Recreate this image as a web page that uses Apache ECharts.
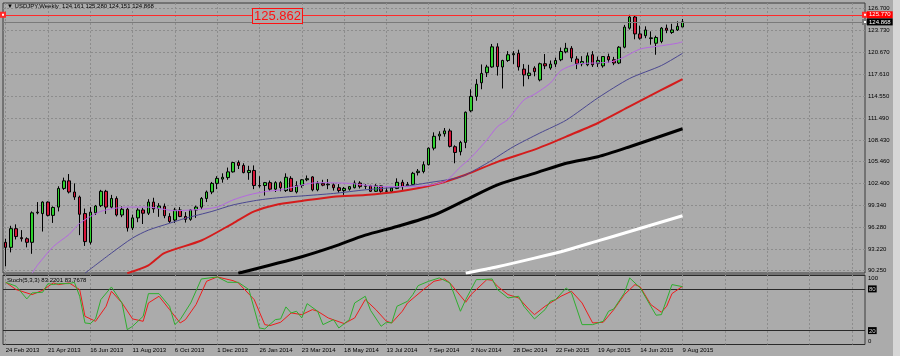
<!DOCTYPE html>
<html><head><meta charset="utf-8">
<script src="https://cdn.jsdelivr.net/npm/echarts@6/dist/echarts.min.js"></script>
<style>html,body{margin:0;padding:0;background:#ababab;overflow:hidden}#c{width:900px;height:356px}</style>
</head><body><div id="c"></div>
<script>
// ---------- data ----------
const symbolName = 'USDJPY';
const timeframe = 'Weekly';
const tickLabels = ['24 Feb 2013','21 Apr 2013','16 Jun 2013','11 Aug 2013','6 Oct 2013','1 Dec 2013','26 Jan 2014','23 Mar 2014','18 May 2014','13 Jul 2014','7 Sep 2014','2 Nov 2014','28 Dec 2014','22 Feb 2015','19 Apr 2015','14 Jun 2015','9 Aug 2015'];
const tickIndex = [0,8,16,24,32,40,48,56,64,72,80,88,96,104,112,120,128];
const gridIndex = [0,8,16,24,32,40,48,56,64,72,80,88,96,104,112,120,128,136,144,152,160];
const priceTicks = [90.25,93.22,96.28,99.34,102.40,105.46,108.43,111.49,114.55,117.61,120.67,123.73,126.70];
const stochLevels = [0,20,80,100];
const slotCount = 163;

const opens = [94.2,93.5,96.1,94.85,94.7,94.2,98.4,98.2,99.8,97.95,99.1,101.7,102.75,101.2,100.5,98.2,94.2,98.3,99.3,101.3,99.1,100.3,98.0,98.8,96.2,97.6,98.7,98.25,99.8,98.9,99.2,97.8,97.3,98.7,97.8,97.4,98.7,99.1,100.3,101.2,102.4,103.0,103.2,104.0,105.3,104.9,103.9,104.2,102.1,102.1,102.5,101.6,102.5,101.4,103.1,101.2,102.1,102.9,103.3,101.5,102.4,102.2,102.2,101.8,101.4,101.6,101.8,102.45,102.0,102.05,101.3,102.05,101.3,101.3,101.7,102.55,102.05,102.25,103.9,104.05,105.0,107.3,109.0,109.3,109.7,107.5,106.8,108.1,112.5,114.5,116.4,117.8,118.6,121.4,118.6,119.5,120.3,120.5,118.3,117.4,118.45,116.8,119.05,118.45,119.0,119.6,120.7,121.2,119.7,119.05,118.9,120.3,119.1,118.75,120.05,119.6,119.15,121.35,124.0,125.55,123.2,122.95,122.55,121.9,122.15,124.0,123.4,123.75,124.161];
const highs = [94.7,96.5,96.7,95.9,94.9,98.5,99.8,99.9,99.9,99.2,102.0,103.2,103.7,102.4,100.7,98.9,99.1,99.4,101.5,101.5,100.8,100.6,99.2,99.0,98.05,98.95,99.0,100.2,100.4,99.65,99.6,98.25,99.0,99.1,98.4,98.8,99.3,100.5,101.4,102.6,103.4,103.8,104.6,105.4,105.6,105.2,104.85,104.9,103.4,102.6,102.8,102.7,102.7,103.8,103.4,102.7,103.0,103.5,103.4,102.7,102.9,103.0,102.4,102.3,101.9,102.0,102.8,102.7,102.3,102.2,102.3,102.1,101.8,101.9,103.1,102.9,102.6,104.0,104.4,105.45,107.4,109.5,109.65,110.1,110.0,107.7,108.3,112.4,115.5,116.9,118.95,118.9,121.8,121.9,119.6,120.8,120.8,121.0,119.0,118.9,118.7,119.2,120.4,119.5,119.9,121.3,121.95,121.5,120.1,120.1,120.6,120.8,120.05,120.1,120.45,120.0,121.5,124.45,125.86,125.72,124.35,124.25,123.55,122.95,124.15,124.5,124.6,124.95,125.28];
const lows = [90.85,92.8,94.6,94.3,93.5,92.6,98.1,95.7,97.8,96.9,98.5,101.5,101.0,100.1,95.2,93.7,93.9,98.0,99.1,98.15,98.9,97.8,97.7,95.7,95.9,97.0,96.75,98.0,98.3,97.75,97.55,96.9,96.9,97.7,96.95,97.2,97.6,98.8,99.8,100.9,101.6,102.5,102.9,103.9,104.4,103.8,102.9,101.6,101.8,100.7,101.4,101.2,101.3,101.2,101.2,101.0,101.8,102.7,101.3,101.3,102.0,101.6,101.4,101.1,100.8,101.4,101.7,101.7,101.6,101.2,101.2,101.1,101.1,101.1,101.6,101.5,101.9,102.2,103.5,103.8,104.9,107.0,108.4,108.9,107.4,105.2,106.3,107.3,112.3,113.9,115.5,117.2,118.5,117.4,115.6,119.3,119.0,118.1,115.9,116.9,117.3,116.6,118.3,118.2,118.6,119.4,120.5,119.3,118.3,118.7,118.7,118.6,118.6,118.5,119.2,118.85,119.0,121.2,123.8,122.45,122.4,122.6,121.7,120.3,121.9,123.3,123.2,123.6,124.151];
const closes = [93.5,96.1,95.0,94.7,94.2,98.3,98.3,99.8,97.95,99.05,101.7,102.75,101.2,100.5,98.1,94.3,98.4,99.25,101.3,99.1,100.3,98.0,98.8,96.2,97.6,98.7,98.25,99.8,98.85,99.25,97.9,97.1,98.7,97.8,97.4,98.7,99.1,100.3,101.2,102.4,103.1,103.25,104.0,105.3,104.9,103.9,104.2,102.1,102.05,102.5,101.6,102.5,101.8,103.25,101.3,102.1,102.9,103.05,101.5,102.4,102.15,102.3,101.8,101.4,101.7,101.95,102.45,101.95,102.05,101.3,102.05,101.3,101.35,101.75,102.55,101.95,102.25,103.8,104.1,105.0,107.3,108.95,109.25,109.7,107.55,106.7,108.1,112.3,114.5,116.2,117.7,118.6,121.4,118.65,119.5,120.3,120.45,118.6,117.5,117.75,117.95,119.05,118.75,119.0,119.5,120.75,121.2,119.85,119.05,119.35,120.15,118.9,119.5,120.05,119.6,119.15,121.35,124.15,125.55,123.2,122.6,123.75,122.65,122.7,124.0,123.7,123.75,124.25,124.868];

const maViolet = [[5,89.9],[6,91.0],[9,93.6],[12,95.3],[14,96.85],[18,98.5],[23,99.1],[27,99.1],[32,98.6],[37,98.8],[40,99.1],[43,100.1],[46,100.8],[49,101.25],[52,101.5],[59,102.5],[65,102.4],[71,101.95],[77,101.95],[83,102.65],[86,104.7],[88,106.0],[91,108.45],[93,110.3],[95,111.3],[98,114.0],[100,114.8],[103,116.35],[105,118.1],[108,119.0],[113,119.2],[115,119.4],[117,120.0],[120,121.1],[124,121.55],[127,121.9],[128,122.1]];
const maBlue = [[15,89.9],[20,92.7],[24,94.8],[27,95.9],[31,96.85],[34,97.55],[39,98.5],[43,99.4],[48,100.1],[53,100.5],[56,100.65],[62,101.0],[68,101.5],[75,101.95],[80,102.5],[86,103.3],[91,105.2],[96,107.5],[101,109.4],[106,111.2],[112,114.3],[118,117.0],[124,118.8],[128,120.5]];
const maRed = [[23,89.9],[27,91.0],[30,92.7],[37,94.45],[43,96.85],[47,98.5],[51,99.4],[56,99.95],[62,100.55],[68,100.8],[74,101.25],[81,102.2],[87,103.6],[93,105.4],[100,107.1],[106,108.9],[112,110.8],[118,113.1],[124,115.4],[128,116.9]];
const maBlack = [[44,89.9],[56,92.2],[62,93.6],[68,95.2],[74,96.4],[81,98.0],[87,100.1],[93,102.2],[100,103.8],[106,105.2],[112,106.1],[118,107.5],[128,110.0]];
const maWhite = [[87,89.9],[93,90.8],[100,92.0],[106,93.1],[112,94.4],[118,95.7],[128,97.9]];

const stochMain = [[0,89.5],[2,83.8],[4,65.6],[5,74.2],[7,75.2],[8,87.6],[9,86.2],[10,87.6],[12,87.6],[13,89.5],[14,69.4],[15,31.0],[16,30.1],[17,36.8],[18,64.6],[20,82.8],[22,59.8],[23,21.4],[24,26.2],[26,40.6],[27,73.2],[29,73.2],[31,55.0],[32,28.6],[33,35.8],[35,59.8],[37,94.3],[40,97.2],[42,89.5],[44,89.5],[46,79.0],[48,23.8],[49,22.4],[51,35.8],[52,36.8],[53,54.1],[54,45.4],[55,47.8],[56,38.2],[57,58.8],[59,47.8],[60,28.6],[62,35.8],[63,23.8],[65,35.8],[66,59.8],[68,69.4],[69,49.2],[71,26.2],[72,32.0],[73,31.0],[74,55.0],[76,62.2],[77,71.8],[78,84.7],[80,91.0],[82,95.8],[84,88.6],[86,47.8],[87,64.6],[89,93.4],[90,93.4],[92,94.3],[93,79.0],[95,67.0],[97,69.4],[98,55.0],[100,36.8],[102,50.2],[103,62.2],[104,64.6],[106,81.4],[107,74.2],[109,28.6],[111,28.6],[113,33.4],[114,47.8],[115,51.2],[117,74.2],[118,95.8],[120,81.4],[122,55.0],[123,42.1],[124,43.0],[126,86.2],[128,83.2201]];
const stochSignal = [[0,89.5],[2,79.0],[5,71.8],[7,78.0],[9,88.6],[10,86.2],[12,88.6],[14,79.0],[15,40.6],[17,33.4],[19,55.0],[20,76.6],[22,59.8],[24,36.8],[26,33.4],[27,59.8],[29,69.4],[31,50.2],[33,31.0],[34,35.8],[36,57.4],[38,91.0],[40,97.2],[43,91.9],[44,88.6],[47,64.6],[49,28.6],[50,27.2],[52,32.0],[54,45.4],[56,43.0],[58,50.2],[59,47.8],[61,38.2],[64,30.1],[66,38.2],[68,64.6],[70,50.2],[72,33.4],[73,31.0],[75,47.8],[76,59.8],[79,79.0],[81,91.0],[83,94.3],[84,88.6],[87,60.8],[88,71.8],[91,93.4],[92,92.4],[93,83.8],[95,71.8],[97,67.0],[99,50.2],[100,43.0],[102,55.0],[105,69.4],[107,76.6],[109,59.8],[111,31.0],[113,32.0],[115,50.2],[117,71.8],[119,86.2],[120,82.8],[122,57.4],[124,46.4],[125,55.0],[126,73.2],[128,83.7678]];

const hLineValue = 125.862;
const hLineTag = '125.770';
const bidValue = 124.868;
const stochTitle = 'Stoch(5,3,3) 83.2201 83.7678';

// ---------- chart ----------
const FONT = '"Liberation Sans", "DejaVu Sans", sans-serif';
const slots = Array.from({length: slotCount}, (_, i) => String(i));
const candles = opens.map((o, i) => [o, closes[i], lows[i], highs[i]]);
const last = opens.length - 1;
const header = '\u25BC ' + symbolName + ',' + timeframe + '  ' +
  [opens[last], highs[last], lows[last], closes[last]].map(v => v.toFixed(3)).join(' ');

const gridDash = {color: '#8c8c8c', width: 1, type: [2, 2]};
const chart = echarts.init(document.getElementById('c'), null, {renderer: 'canvas'});

function maSeries(name, data, color, width, z) {
  return {name, type: 'line', xAxisIndex: 1, yAxisIndex: 0, data, symbol: 'none',
    smooth: 0.25,
    lineStyle: {color, width}, z, silent: true, clip: true};
}

chart.setOption({
  animation: false,
  backgroundColor: '#ababab',
  title: [
    {text: header, left: 7, top: 3, padding: 0,
     textStyle: {fontSize: 6, fontWeight: 'normal', color: '#000', fontFamily: FONT}},
    {text: stochTitle, left: 7, top: 277, padding: 0,
     textStyle: {fontSize: 6, fontWeight: 'normal', color: '#000', fontFamily: FONT}}
  ],
  grid: [
    {left: 3, right: 35, top: 3, height: 270, show: true, borderColor: '#3a3a3a', borderWidth: 1, backgroundColor: 'transparent'},
    {left: 3, right: 35, top: 275, height: 69.5, show: true, borderColor: '#3a3a3a', borderWidth: 1, backgroundColor: 'transparent'}
  ],
  xAxis: [
    {type: 'category', gridIndex: 0, data: slots, boundaryGap: true, show: false},
    {type: 'value', gridIndex: 0, min: -0.5, max: slotCount - 0.5,
     axisLine: {show: false}, axisLabel: {show: false},
     axisTick: {show: false, customValues: gridIndex},
     splitLine: {show: true, lineStyle: gridDash}},
    {type: 'category', gridIndex: 1, data: slots, boundaryGap: true, show: false},
    {type: 'value', gridIndex: 1, min: -0.5, max: slotCount - 0.5, position: 'bottom',
     axisLine: {show: false},
     axisTick: {show: false, customValues: gridIndex},
     axisLabel: {show: true, customValues: tickIndex, align: 'left', margin: 3,
       fontSize: 6, color: '#000', fontFamily: FONT,
       formatter: v => tickLabels[tickIndex.indexOf(Math.round(v))] || ''},
     splitLine: {show: true, lineStyle: gridDash}}
  ],
  yAxis: [
    {type: 'value', gridIndex: 0, min: 89.93, max: 127.5, position: 'right',
     axisLine: {show: false},
     axisTick: {show: false, customValues: priceTicks},
     axisLabel: {customValues: priceTicks, margin: 3, fontSize: 6, color: '#000', fontFamily: FONT,
       formatter: v => v.toFixed(3)},
     splitLine: {show: true, lineStyle: gridDash}},
    {type: 'value', gridIndex: 1, min: 0, max: 100, position: 'right',
     axisLine: {show: false},
     axisTick: {show: false, customValues: stochLevels},
     axisLabel: {customValues: stochLevels, margin: 3, fontSize: 6, color: '#000', fontFamily: FONT,
       formatter: v => v === 100 ? '{t|100}' : v === 0 ? '{z|0}' : '{b|' + v + '}',
       rich: {
         t: {fontSize: 6, padding: [7, 0, 0, 0], fontFamily: FONT, color: '#000'},
         z: {fontSize: 6, padding: [0, 0, 7, 0], fontFamily: FONT, color: '#000'},
         b: {fontSize: 6, backgroundColor: '#000', color: '#d0d0d0', padding: [1, 1, 0, 1], fontFamily: FONT}
       }},
     splitLine: {show: true, lineStyle: {color: '#2a2a2a', width: 1, type: 'solid'}}}
  ],
  series: [
    {name: 'price', type: 'candlestick', xAxisIndex: 0, yAxisIndex: 0, data: candles,
     barWidth: 3, z: 2, silent: true,
     itemStyle: {color: '#2fd32f', color0: '#d8143a', borderColor: '#000', borderColor0: '#000', borderWidth: 1},
     markLine: {
       silent: true, animation: false, symbol: ['emptyRect', 'emptyRect'], symbolSize: 4,
       data: [
         {yAxis: hLineValue, lineStyle: {color: '#ff2a2a', width: 1, type: 'solid'},
          label: {show: true, position: 'end', distance: 2, formatter: hLineTag,
            backgroundColor: '#ff0000', color: '#fff', fontSize: 6, padding: [1, 2, 0, 2], fontFamily: FONT}},
         {yAxis: bidValue, symbol: 'none', lineStyle: {color: '#7a7a7a', width: 1, type: 'solid'},
          label: {show: true, position: 'end', distance: 2, formatter: bidValue.toFixed(3),
            backgroundColor: '#000', color: '#fff', fontSize: 6, padding: [1, 2, 0, 2], fontFamily: FONT}}
       ]
     }},
    maSeries('MA white', maWhite, '#ffffff', 3, 3),
    maSeries('MA black', maBlack, '#000000', 3, 3),
    maSeries('MA red', maRed, '#d41c1c', 2, 3),
    maSeries('MA blue', maBlue, '#4a4790', 1, 3),
    maSeries('MA violet', maViolet, '#b568e0', 1, 3),
    {name: 'Signal', type: 'line', xAxisIndex: 3, yAxisIndex: 1, data: stochSignal, symbol: 'none',
     lineStyle: {color: '#ee1c1c', width: 1}, z: 3, silent: true},
    {name: 'Main', type: 'line', xAxisIndex: 3, yAxisIndex: 1, data: stochMain, symbol: 'none',
     lineStyle: {color: '#2fae2f', width: 1}, z: 3, silent: true}
  ]
});

const yLine = chart.convertToPixel({yAxisIndex: 0}, hLineValue);
chart.setOption({
  graphic: [
    {type: 'text', left: 252, top: Math.round(yLine) - 7, z: 10, silent: true,
     style: {text: hLineValue.toFixed(3), fill: '#ff1010',
       font: '13px "Liberation Sans", sans-serif',
       backgroundColor: '#ababab', borderColor: '#ff1010', borderWidth: 1, padding: [1, 1, 0, 1], lineHeight: 13}},
    {type: 'rect', right: 0, top: 0, z: 10, silent: true,
     shape: {width: 7, height: 356}, style: {fill: '#d6d6d6'}}
  ]
});
</script>
</body></html>
